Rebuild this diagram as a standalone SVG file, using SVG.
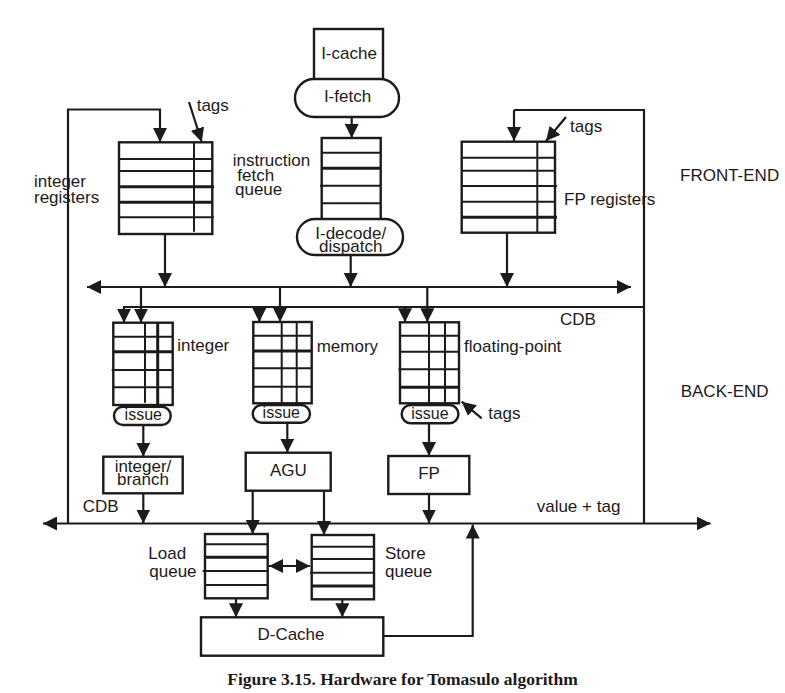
<svg xmlns="http://www.w3.org/2000/svg" width="785" height="693" viewBox="0 0 785 693">
<defs>
<style>
.box{fill:#fff;stroke:#1e1a1b;stroke-width:2.4}
.row{stroke:#1e1a1b;stroke-width:2}
.rowb{stroke:#1e1a1b;stroke-width:3}
.ln{fill:none;stroke:#1e1a1b;stroke-width:2.2}
.arr{fill:none;stroke:#1e1a1b;stroke-width:2.2;marker-end:url(#ah)}
.arr2{fill:none;stroke:#1e1a1b;stroke-width:2.2;marker-end:url(#ah);marker-start:url(#ahs)}
text{font-family:"Liberation Sans",Arial,Helvetica,sans-serif;font-size:17px;fill:#1e1a1b}
.c{text-anchor:middle}
.sm{font-size:16px}
.cap{font-family:"Liberation Serif","Times New Roman",serif;font-weight:bold;font-size:17.5px}
</style>
<marker id="ah" markerUnits="userSpaceOnUse" markerWidth="15" markerHeight="15" refX="14" refY="7" orient="auto" viewBox="0 0 15 15">
<path d="M0,0 L14,7 L0,14 z" fill="#1e1a1b"/>
</marker>
<marker id="ahs" markerUnits="userSpaceOnUse" markerWidth="15" markerHeight="15" refX="0" refY="7" orient="auto" viewBox="0 0 15 15">
<path d="M14,0 L0,7 L14,14 z" fill="#1e1a1b"/>
</marker>
</defs>
<rect width="785" height="693" fill="#fff"/>

<g id="connectors">
<path class="arr" d="M68,523.5 V109.5 H160 V142"/>
<path class="ln" d="M644,523.5 V110 H514"/>
<path class="arr" d="M514,110 V141"/>
<path class="arr" d="M644,307 H124 V322.7"/>
<path class="arr" d="M259.3,307 V322"/>
<path class="arr" d="M405,307 V322.3"/>
<path class="arr2" d="M87,287 H631"/>
<path class="arr" d="M351.7,117 V138"/>
<path class="arr" d="M350.7,255 V287"/>
<path class="arr" d="M165,234 V287"/>
<path class="arr" d="M507,233 V287"/>
<path class="arr" d="M141,287 V322.7"/>
<path class="arr" d="M280,287 V322"/>
<path class="arr" d="M427.3,287 V322.3"/>
<path class="arr" d="M189,102 L201.7,142"/>
<path class="arr" d="M566,117 L546,141"/>
<path class="arr" d="M481.7,418.3 L461.7,401.7"/>
<path class="arr" d="M143.3,425 V456.7"/>
<path class="arr" d="M143.3,493.3 V523.5"/>
<path class="arr" d="M287.3,422.7 V452.7"/>
<path class="arr" d="M429,423.3 V456"/>
<path class="arr" d="M429,494 V523.5"/>
<path class="arr" d="M252.7,490.7 V534"/>
<path class="arr" d="M324,490.7 V535"/>
<path class="arr2" d="M43,523.5 H710.7"/>
<path class="arr2" d="M269,566 H310"/>
<path class="arr" d="M236,598.3 V617.3"/>
<path class="arr" d="M342.3,599.3 V617.3"/>
<path class="arr" d="M381.7,636 H472.7 V524.5"/>
</g>

<g id="icache">
<rect class="box" x="314" y="29" width="69" height="60"/>
<text class="c" x="349" y="58.5">I-cache</text>
</g>
<g id="ifetch">
<rect class="box" x="295" y="79" width="104" height="38" rx="19"/>
<text class="c" x="347.5" y="102">I-fetch</text>
</g>
<g id="ifq">
<rect class="box" x="321.7" y="138" width="59" height="82"/>
<line class="row" x1="321.7" y1="152.7" x2="380.7" y2="152.7"/>
<line class="rowb" x1="321.7" y1="168.3" x2="380.7" y2="168.3"/>
<line class="row" x1="320" y1="185.7" x2="380.7" y2="185.7"/>
<line class="row" x1="321.7" y1="203.3" x2="380.7" y2="203.3"/>
<text x="232.7" y="166">instruction</text>
<text x="237.3" y="180.7">fetch</text>
<text x="235" y="195">queue</text>
</g>
<g id="idecode">
<rect class="box" x="297" y="219" width="106" height="36" rx="18"/>
<text class="c" x="350.7" y="239">I-decode/</text>
<text class="c" x="350.7" y="251.5">dispatch</text>
</g>

<g id="intregs">
<rect class="box" x="119" y="142.3" width="93.3" height="91.7"/>
<line class="row" x1="119" y1="159" x2="212.3" y2="159"/>
<line class="row" x1="119" y1="171" x2="212.3" y2="171"/>
<line class="rowb" x1="119" y1="186.7" x2="214" y2="186.7"/>
<line class="rowb" x1="119" y1="202.3" x2="212.3" y2="202.3"/>
<line class="row" x1="119" y1="217.3" x2="214" y2="217.3"/>
<line class="row" x1="194" y1="142.3" x2="194" y2="231.7"/>
<text x="34" y="186.7">integer</text>
<text x="34" y="203">registers</text>
<text x="196.7" y="110.7">tags</text>
</g>

<g id="fpregs">
<rect class="box" x="461.7" y="141.7" width="93.3" height="91"/>
<line class="row" x1="461.7" y1="157.7" x2="555" y2="157.7"/>
<line class="row" x1="461.7" y1="170.7" x2="555" y2="170.7"/>
<line class="row" x1="461.7" y1="186" x2="557" y2="186"/>
<line class="row" x1="461.7" y1="201.7" x2="555" y2="201.7"/>
<line class="rowb" x1="461.7" y1="217.3" x2="557" y2="217.3"/>
<line class="row" x1="537.3" y1="141.7" x2="537.3" y2="232.7"/>
<text x="564" y="205">FP registers</text>
<text x="570" y="132.3">tags</text>
</g>

<g id="labels">
<text x="680" y="181">FRONT-END</text>
<text x="680.7" y="397.3">BACK-END</text>
<text x="560" y="325">CDB</text>
<text x="82.7" y="511.7">CDB</text>
<text x="536.7" y="511.7">value + tag</text>
</g>

<g id="intrs">
<rect class="box" x="113.3" y="322.7" width="59.4" height="82.3"/>
<line class="row" x1="113.3" y1="336.7" x2="172.7" y2="336.7"/>
<line class="rowb" x1="113.3" y1="351.7" x2="172.7" y2="351.7"/>
<line class="row" x1="111.7" y1="370" x2="172.7" y2="370"/>
<line class="row" x1="113.3" y1="387.3" x2="172.7" y2="387.3"/>
<line class="row" x1="145" y1="322.7" x2="145" y2="402.7"/>
<line class="rowb" x1="157.7" y1="322.7" x2="157.7" y2="405"/>
<rect class="box" x="114" y="406.7" width="56.7" height="18.3" rx="9"/>
<text class="c sm" x="143.3" y="419.5">issue</text>
<text x="177.3" y="351">integer</text>
</g>

<g id="memrs">
<rect class="box" x="253.3" y="322" width="58.4" height="81.3"/>
<line class="row" x1="253.3" y1="335.7" x2="311.7" y2="335.7"/>
<line class="rowb" x1="253.3" y1="351" x2="311.7" y2="351"/>
<line class="row" x1="252" y1="368.3" x2="311.7" y2="368.3"/>
<line class="row" x1="253.3" y1="386.7" x2="311.7" y2="386.7"/>
<line class="row" x1="281.7" y1="322" x2="281.7" y2="403.3"/>
<line class="row" x1="296.7" y1="322" x2="296.7" y2="403.3"/>
<rect class="box" x="252.7" y="405" width="57.3" height="17.7" rx="9"/>
<text class="c sm" x="281.3" y="418">issue</text>
<text x="316.7" y="351.7">memory</text>
</g>

<g id="fprs">
<rect class="box" x="400" y="322.3" width="59" height="81"/>
<line class="row" x1="400" y1="335.7" x2="459" y2="335.7"/>
<line class="row" x1="400" y1="351.7" x2="459" y2="351.7"/>
<line class="row" x1="398.5" y1="369.3" x2="459" y2="369.3"/>
<line class="rowb" x1="400" y1="387.3" x2="459" y2="387.3"/>
<line class="row" x1="429" y1="322.3" x2="429" y2="403.3"/>
<line class="row" x1="445" y1="322.3" x2="445" y2="403.3"/>
<rect class="box" x="401.7" y="405" width="56.7" height="18.3" rx="9"/>
<text class="c sm" x="430" y="418.5">issue</text>
<text x="464" y="352.3">floating-point</text>
<text x="488.3" y="419">tags</text>
</g>

<g id="intbranch">
<rect class="box" x="103.3" y="456.7" width="79.4" height="36.6"/>
<text class="c" x="143" y="471.5">integer/</text>
<text class="c" x="143" y="485">branch</text>
</g>
<g id="agu">
<rect class="box" x="245.7" y="452.7" width="85" height="38"/>
<text class="c" x="288.3" y="475.5">AGU</text>
</g>
<g id="fpunit">
<rect class="box" x="388.3" y="456" width="81" height="38"/>
<text class="c" x="429" y="478.5">FP</text>
</g>

<g id="loadq">
<rect class="box" x="205" y="534" width="62.7" height="64.3"/>
<line class="row" x1="205" y1="544.3" x2="267.7" y2="544.3"/>
<line class="rowb" x1="205" y1="557.3" x2="267.7" y2="557.3"/>
<line class="row" x1="202.7" y1="571" x2="267.7" y2="571"/>
<line class="row" x1="205" y1="585" x2="267.7" y2="585"/>
<text x="148.3" y="559.3">Load</text>
<text x="149.3" y="576.7">queue</text>
</g>
<g id="storeq">
<rect class="box" x="311.7" y="535" width="62.3" height="64.3"/>
<line class="row" x1="311.7" y1="546.7" x2="374" y2="546.7"/>
<line class="row" x1="311.7" y1="559" x2="374" y2="559"/>
<line class="row" x1="310" y1="572.7" x2="374" y2="572.7"/>
<line class="rowb" x1="311.7" y1="586" x2="374" y2="586"/>
<text x="385" y="559.3">Store</text>
<text x="385" y="576.7">queue</text>
</g>
<g id="dcache">
<rect class="box" x="201" y="617.3" width="182.3" height="38.4"/>
<text class="c" x="291" y="640">D-Cache</text>
</g>

<text class="cap c" x="402.5" y="685">Figure 3.15. Hardware for Tomasulo algorithm</text>
</svg>
